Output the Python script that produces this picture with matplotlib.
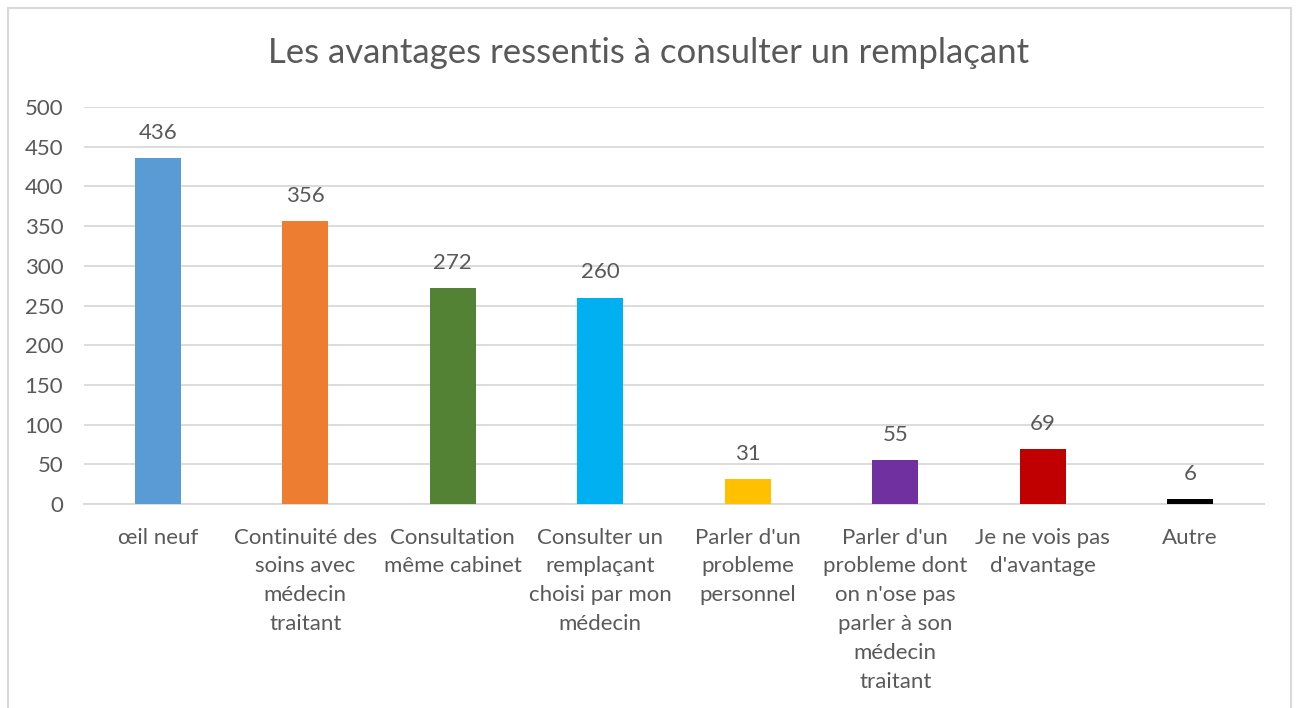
import matplotlib.pyplot as plt
from matplotlib.patches import Rectangle

categories = [
    "œil neuf",
    "Continuité des\nsoins avec\nmédecin\ntraitant",
    "Consultation\nmême cabinet",
    "Consulter un\nremplaçant\nchoisi par mon\nmédecin",
    "Parler d'un\nprobleme\npersonnel",
    "Parler d'un\nprobleme dont\non n'ose pas\nparler à son\nmédecin\ntraitant",
    "Je ne vois pas\nd'avantage",
    "Autre",
]
counts = [436, 356, 272, 260, 31, 55, 69, 6]
colors = ["#5B9BD5", "#ED7D31", "#548235", "#00B0F0",
          "#FFC000", "#7030A0", "#C00000", "#000000"]
yticks = [0, 50, 100, 150, 200, 250, 300, 350, 400, 450, 500]

plt.rcParams['font.family'] = ['Lato', 'DejaVu Sans']
text_color = "#595959"
grid_color = "#D9D9D9"

fig = plt.figure(figsize=(12.98, 7.08), dpi=100)
ax = fig.add_axes([0.0647, 0.2881, 0.9091, 0.5608])

# chart frame, running off the bottom edge
fig.patches.append(Rectangle((8 / 1298, -0.05), (1291 - 8) / 1298, 1.05 - 8 / 708,
                             transform=fig.transFigure, fill=False,
                             edgecolor=grid_color, linewidth=1.5))

x = range(len(categories))
bars = ax.bar(x, counts, width=0.31, color=colors, zorder=3)

for xi, v in zip(x, counts):
    ax.annotate(str(v), (xi, v), xytext=(0, 11), textcoords="offset points",
                ha="center", va="bottom", fontsize=16, color=text_color)

ax.set_ylim(0, 500)
ax.set_xlim(-0.5, len(categories) - 0.5)
ax.set_yticks(yticks)
ax.set_xticks(list(x))
ax.set_xticklabels(categories, linespacing=1.55, va="top")
ax.tick_params(axis="y", length=0, pad=15, labelsize=16, labelcolor=text_color)
ax.tick_params(axis="x", length=0, pad=17, labelsize=16, labelcolor=text_color)
ax.grid(axis="y", color=grid_color, linewidth=1.3, zorder=0)
for side in ["top", "right", "left"]:
    ax.spines[side].set_visible(False)
ax.spines["bottom"].set_color(grid_color)
ax.spines["bottom"].set_linewidth(1.3)

fig.text(0.5, 1 - 53 / 708, "Les avantages ressentis à consulter un remplaçant",
         ha="center", va="center", fontsize=25, color=text_color)

fig.savefig("out.png", dpi=100)
